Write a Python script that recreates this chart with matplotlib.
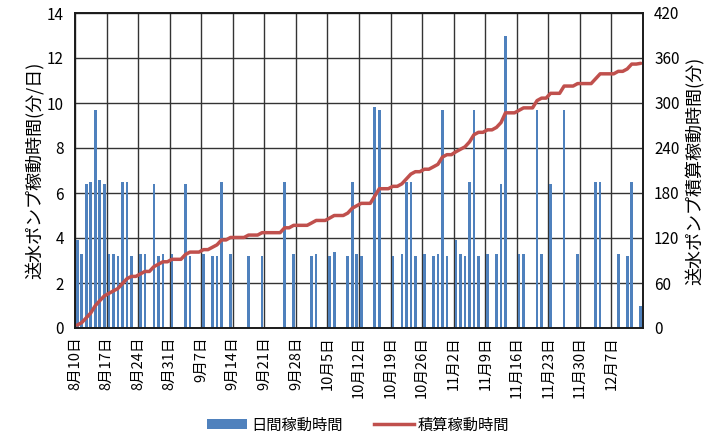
import numpy as np
import matplotlib
matplotlib.use("Agg")
import matplotlib.pyplot as plt
from matplotlib.patches import Patch
from matplotlib.lines import Line2D

plt.rcParams['font.family'] = ['Noto Sans CJK JP', 'DejaVu Sans']

# Daily pump run time (minutes/day), one value per day from Aug 10 to Dec 13
daily_minutes = [
    3.9, 3.3, 6.4, 6.5, 9.7, 6.6, 6.4,        # 8/10 - 8/16
    3.3, 3.3, 3.2, 6.5, 6.5, 3.2, 0.0,        # 8/17 - 8/23
    3.3, 3.3, 0.0, 6.4, 3.2, 3.3, 0.0,        # 8/24 - 8/30
    3.3, 0.0, 0.0, 6.4, 3.2, 0.0, 0.0,        # 8/31 - 9/6
    3.3, 0.0, 3.2, 3.2, 6.5, 0.0, 3.3,        # 9/7 - 9/13
    0.0, 0.0, 0.0, 3.2, 0.0, 0.0, 3.2,        # 9/14 - 9/20
    0.0, 0.0, 0.0, 0.0, 6.5, 0.0, 3.3,        # 9/21 - 9/27
    0.0, 0.0, 0.0, 3.2, 3.3, 0.0, 0.0,        # 9/28 - 10/4
    3.2, 3.4, 0.0, 0.0, 3.2, 6.5, 3.3,        # 10/5 - 10/11
    3.2, 0.0, 0.0, 9.8, 9.7, 0.0, 0.0,        # 10/12 - 10/18
    3.2, 0.0, 3.3, 6.5, 6.5, 3.2, 0.0,        # 10/19 - 10/25
    3.3, 0.0, 3.2, 3.3, 9.7, 3.2, 0.0,        # 10/26 - 11/1
    3.9, 3.3, 3.2, 6.5, 9.7, 3.2, 0.0,        # 11/2 - 11/8
    3.3, 0.0, 3.3, 6.4, 13.0, 0.0, 0.0,       # 11/9 - 11/15
    3.3, 3.3, 0.0, 0.0, 9.7, 3.3, 0.0,        # 11/16 - 11/22
    6.4, 0.0, 0.0, 9.7, 0.0, 0.0, 3.3,        # 11/23 - 11/29
    0.0, 0.0, 0.0, 6.5, 6.5, 0.0, 0.0,        # 11/30 - 12/6
    0.0, 3.3, 0.0, 3.2, 6.5, 0.0, 1.0,        # 12/7 - 12/13
]

tick_labels = ["8月10日", "8月17日", "8月24日", "8月31日", "9月7日", "9月14日",
               "9月21日", "9月28日", "10月5日", "10月12日", "10月19日", "10月26日",
               "11月2日", "11月9日", "11月16日", "11月23日", "11月30日", "12月7日"]

bar_label = "日間稼動時間"
line_label = "積算稼動時間"
left_ylabel = "送水ポンプ稼動時間(分/日)"
right_ylabel = "送水ポンプ積算稼動時間(分)"

bar_color = "#4F81BD"
line_color = "#C0504D"
grid_color = "#333333"

daily = np.array(daily_minutes)
cumulative = np.cumsum(daily)
n_days = len(daily)
x = np.arange(n_days) + 0.5

fig = plt.figure(figsize=(7.17, 4.45), dpi=100)
ax = fig.add_axes([75 / 717, 1 - 328 / 445, (643 - 75) / 717, (328 - 13) / 445])

ax.bar(x, daily, width=0.58, color=bar_color, zorder=2)
ax.set_xlim(0, n_days)
ax.set_ylim(0, 14)
ax.set_yticks(np.arange(0, 15, 2))
ax.set_xticks(np.arange(0, 7 * len(tick_labels), 7))
ax.set_xticklabels(tick_labels, rotation=90, fontsize=10.5)
ax.tick_params(axis='x', length=0, pad=6)
ax.tick_params(axis='y', length=0, labelsize=11, pad=8)
ax.grid(True, color=grid_color, linewidth=1.0, zorder=0)
ax.set_axisbelow(True)
ax.set_ylabel(left_ylabel, fontsize=13, labelpad=2)

ax2 = ax.twinx()
ax2.plot(x, cumulative, color=line_color, linewidth=2.5, solid_capstyle='round')
ax2.set_ylim(0, 420)
ax2.set_yticks(np.arange(0, 421, 60))
ax2.tick_params(axis='y', length=0, labelsize=11, pad=8)
ax2.set_ylabel(right_ylabel, fontsize=13, labelpad=4)

for a in (ax, ax2):
    for s in a.spines.values():
        s.set_color("#1a1a1a")
        s.set_linewidth(1.2)

handles = [Patch(facecolor=bar_color, edgecolor='none'),
           Line2D([0], [0], color=line_color, linewidth=2.5)]
fig.legend(handles, [bar_label, line_label], loc='lower center',
           bbox_to_anchor=(0.5, -0.005), ncol=2, frameon=False, fontsize=11,
           handlelength=2.6, handleheight=0.55, columnspacing=2.0, handletextpad=0.3)

fig.savefig("out.png", dpi=100)
